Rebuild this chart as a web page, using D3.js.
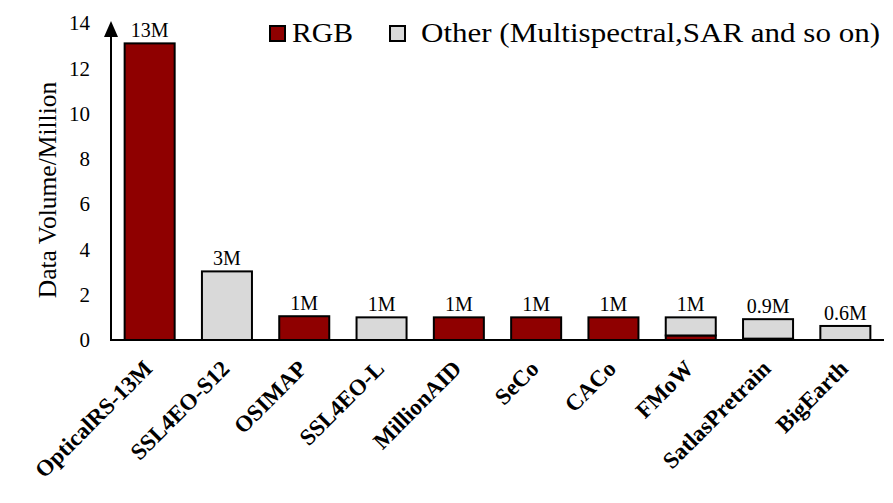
<!DOCTYPE html>
<html><head><meta charset="utf-8">
<script src="https://cdn.jsdelivr.net/npm/d3@7"></script>
<style>body{margin:0;background:#fff}svg{display:block}</style>
</head><body>
<svg id="c" width="893" height="503"></svg>
<script>
const categories = ["OpticalRS-13M","SSL4EO-S12","OSIMAP","SSL4EO-L","MillionAID","SeCo","CACo","FMoW","SatlasPretrain","BigEarth"];
const rgbValues   = [13.1, 0, 1.05, 0, 1.0, 1.0, 1.0, 0.2, 0.06, 0];
const otherValues = [0, 3.03, 0, 1.0, 0, 0, 0, 0.8, 0.86, 0.62];
const totalLabels = ["13M","3M","1M","1M","1M","1M","1M","1M","0.9M","0.6M"];
const yTicks = [0,2,4,6,8,10,12,14];
const seriesNames = ["RGB","Other (Multispectral,SAR and so on)"];
const colors = {RGB:"#8f0000", Other:"#d9d9d9"};

const svg = d3.select("#c");
const m = {l:111, r:884, t:23, b:340};
const x = d3.scaleBand().domain(categories).range([m.l, m.r]).paddingInner(0.353).paddingOuter(0.1765);
const y = d3.scaleLinear().domain([0,14]).range([m.b, m.t]);
const font = "'Liberation Serif','Times New Roman',serif";

const rows = categories.map((c,i)=>({cat:c, RGB:rgbValues[i], Other:otherValues[i]}));
const stack = d3.stack().keys(["RGB","Other"])(rows);

stack.forEach(s=>{
  svg.append("g").selectAll("rect").data(s.filter(d=>d[1]-d[0]>0)).join("rect")
    .attr("x", d=>x(d.data.cat)).attr("width", x.bandwidth())
    .attr("y", d=>y(d[1])).attr("height", d=>y(d[0])-y(d[1]))
    .attr("fill", colors[s.key]).attr("stroke","#000").attr("stroke-width",2);
});

// value labels
svg.append("g").selectAll("text").data(categories).join("text")
  .attr("x", d=>x(d)+x.bandwidth()/2)
  .attr("y", (d,i)=>y(rgbValues[i]+otherValues[i])-6)
  .attr("text-anchor","middle").attr("font-family",font).attr("font-size",20)
  .text((d,i)=>totalLabels[i]);

// y axis
const ya = svg.append("g").attr("transform",`translate(${m.l},0)`)
  .call(d3.axisLeft(y).tickValues(yTicks).tickSize(0).tickPadding(21));
ya.select(".domain").remove();
ya.selectAll("text").attr("font-family",font).attr("font-size",21).attr("fill","#000");
svg.append("line").attr("x1",m.l).attr("x2",m.l).attr("y1",m.b+1).attr("y2",y(14)+8)
  .attr("stroke","#000").attr("stroke-width",2);
svg.append("path").attr("d",`M${m.l},${y(14)-2} L${m.l-7},${y(14)+14} L${m.l+7},${y(14)+14} Z`).attr("fill","#000");

// x axis
const xa = svg.append("g").attr("transform",`translate(0,${m.b})`)
  .call(d3.axisBottom(x).tickSize(0).tickPadding(0));
xa.select(".domain").remove();
svg.append("line").attr("x1",m.l-1).attr("x2",m.r).attr("y1",m.b).attr("y2",m.b)
  .attr("stroke","#000").attr("stroke-width",2);
xa.selectAll("text")
  .attr("font-family",font).attr("font-size",23).attr("font-weight","bold").attr("fill","#000")
  .attr("text-anchor","end").attr("dy",0).attr("y",0)
  .attr("transform", `translate(4,30) rotate(-45)`);

// y title
svg.append("text").attr("transform",`translate(56,190) rotate(-90)`)
  .attr("text-anchor","middle").attr("font-family",font).attr("font-size",25.5).text("Data Volume/Million");

// legend
const lg = svg.append("g");
const legX = [270, 390];
const legTextX = [292, 421];
const legW = [61, 459];
seriesNames.forEach((n,i)=>{
  lg.append("rect").attr("x",legX[i]).attr("y",26).attr("width",15).attr("height",15)
    .attr("fill", i===0?colors.RGB:colors.Other).attr("stroke","#000").attr("stroke-width",2);
  lg.append("text").attr("x",legTextX[i]).attr("y",42).attr("font-family",font).attr("font-size",27)
    .attr("textLength",legW[i]).attr("lengthAdjust","spacingAndGlyphs").text(n);
});
</script>
</body></html>
